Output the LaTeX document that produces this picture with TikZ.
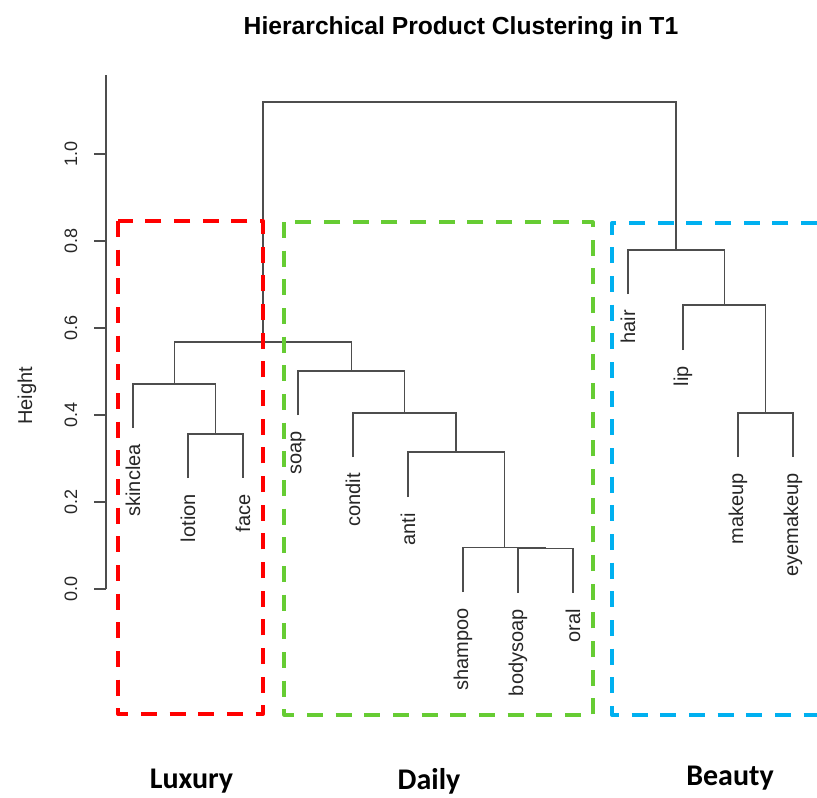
\documentclass[tikz,border=0pt]{standalone}
\usepackage{fontspec}
\setmainfont{Liberation Sans}
\newfontfamily\groupfont{Carlito}
\definecolor{treegray}{HTML}{4D4D4D}
\definecolor{labelgray}{HTML}{262626}
\definecolor{luxred}{HTML}{FF0000}
\definecolor{dailygreen}{HTML}{66CC33}
\definecolor{beautyblue}{HTML}{00B0F0}
\begin{document}
\begin{tikzpicture}[x=0.75pt,y=-0.75pt,
  branch/.style={draw=treegray,line width=1.1pt},
  leaflabel/.style={rotate=90,anchor=east,inner sep=0pt,text=labelgray,
    font=\fontsize{15}{15}\selectfont},
  ticklabel/.style={rotate=90,inner sep=0pt,text=labelgray,
    font=\fontsize{13.5}{13.5}\selectfont},
  groupbox/.style={line width=#1,dash pattern=on 12pt off 9.5pt,line join=round},
  grouplabel/.style={anchor=base,inner sep=0pt,font=\groupfont\bfseries\fontsize{22.5}{22.5}\selectfont}
]
\useasboundingbox (0,0) rectangle (817,797);

% title
\node[font=\bfseries\fontsize{18.5}{18.5}\selectfont] (title) at (461,28) {Hierarchical Product Clustering in T1};

% height axis
\coordinate (axtop) at (106,75);
\coordinate (axbot) at (106,589);
\draw[branch] (axtop) -- (axbot);
\foreach \h/\lab in {0/0.0,1/0.2,2/0.4,3/0.6,4/0.8,5/1.0}{
  \coordinate (tick\h) at (106,{589-87*\h});
  \draw[branch] (tick\h) -- ++(-12,0);
  \node[ticklabel] (ticklab\h) at (71,{589-87*\h}) {\lab};
}
\node[rotate=90,inner sep=0pt,text=labelgray,font=\fontsize{15}{15}\selectfont] (ylab) at (27,396) {Height};

% leaf tips
\coordinate (skinclea)  at (133,428);
\coordinate (lotion)    at (188,478);
\coordinate (face)      at (243,478);
\coordinate (soap)      at (298,415);
\coordinate (condit)    at (353,457);
\coordinate (anti)      at (408,497);
\coordinate (shampoo)   at (463,592);
\coordinate (bodysoap)  at (518,593);
\coordinate (oral)      at (573,593);
\coordinate (hair)      at (628,294);
\coordinate (lip)       at (683,350);
\coordinate (makeup)    at (738,457);
\coordinate (eyemakeup) at (793,457);

% leaf labels
\foreach \leaf in {skinclea,lotion,face,soap,condit,anti,shampoo,bodysoap,oral,hair,lip,makeup,eyemakeup}{
  \node[leaflabel] (\leaf-text) at ([yshift=-12pt]\leaf) {\leaf};
}

% merge points
\coordinate (lf)     at (215.5,434);
\coordinate (lux)    at (174.3,384);
\coordinate (bo)     at (545.5,548.6);
\coordinate (sbo)    at (504.3,547.6);
\coordinate (asbo)   at (456.1,452);
\coordinate (casbo)  at (404.6,413);
\coordinate (daily)  at (351.3,371);
\coordinate (ld)     at (262.8,342);
\coordinate (mk)     at (765.5,413);
\coordinate (lmk)    at (724.3,305);
\coordinate (beauty) at (676.1,250);
\coordinate (root)   at (469.4,102);

% dendrogram branches
\draw[branch] (lotion) |- (lf) -| (face);
\draw[branch] (skinclea) |- (lux) -| (lf);
\draw[branch] (bodysoap) |- (bo) -| (oral);
\draw[branch] (shampoo) |- (sbo) -| (bo);
\draw[branch] (anti) |- (asbo) -| (sbo);
\draw[branch] (condit) |- (casbo) -| (asbo);
\draw[branch] (soap) |- (daily) -| (casbo);
\draw[branch] (lux) |- (ld) -| (daily);
\draw[branch] (makeup) |- (mk) -| (eyemakeup);
\draw[branch] (lip) |- (lmk) -| (mk);
\draw[branch] (hair) |- (beauty) -| (lmk);
\draw[branch] (ld) |- (root) -| (beauty);

% group frames
\draw[groupbox=3pt,draw=luxred] (118,221) rectangle (263,714);
\draw[groupbox=2.3pt,draw=dailygreen] (284,222) rectangle (593,715);
\coordinate (blueTR) at (817,223);
\coordinate (blueBR) at (817,715);
\draw[groupbox=3pt,draw=beautyblue] (blueTR) -- (612,223) -- (612,715) -- (blueBR);

% group names
\node[grouplabel] (luxury-name) at (191.5,788) {Luxury};
\node[grouplabel] (daily-name)  at (429,789) {Daily};
\node[grouplabel] (beauty-name) at (730,785) {Beauty};
\end{tikzpicture}
\end{document}
